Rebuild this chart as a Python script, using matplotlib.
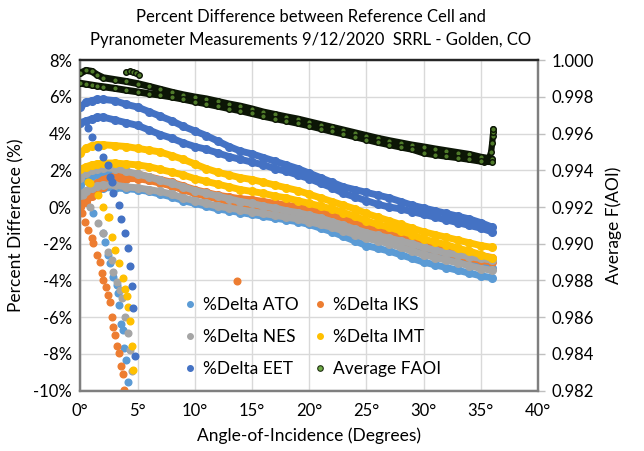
import numpy as np
import matplotlib
matplotlib.use("Agg")
import matplotlib.pyplot as plt
from matplotlib.lines import Line2D
from matplotlib.ticker import FuncFormatter

plt.rcParams['font.family'] = ['Lato', 'DejaVu Sans']

# ---------------- data ----------------
# shared angle-of-incidence grid for the two daily branches (degrees)
aoi = [0, 0.5, 1, 1.5, 2, 3, 4, 5, 6, 7, 8, 9, 10, 11, 12, 13, 14, 15, 16, 17,
       18, 19, 20, 21, 22, 23, 24, 25, 26, 27, 28, 29, 30, 31, 32, 33, 34, 35, 36]

# %Delta ATO
ato_a = [1.2, 1.5, 1.7, 1.8, 1.85, 1.85, 1.75, 1.65, 1.5, 1.35, 1.15, 0.95, 0.75, 0.6,
         0.45, 0.3, 0.15, 0.05, -0.1, -0.2, -0.35, -0.45, -0.6, -0.8, -1.0, -1.2, -1.4,
         -1.6, -1.75, -1.9, -2.1, -2.25, -2.45, -2.6, -2.75, -2.9, -3.0, -3.15, -3.3]
ato_b = [0.5, 0.75, 0.9, 1.0, 1.05, 1.05, 1.0, 0.95, 0.85, 0.7, 0.55, 0.35, 0.2, 0.05,
         -0.1, -0.2, -0.3, -0.4, -0.5, -0.6, -0.7, -0.8, -0.95, -1.15, -1.35, -1.6, -1.85,
         -2.1, -2.25, -2.4, -2.6, -2.8, -3.0, -3.15, -3.3, -3.45, -3.6, -3.75, -3.85]
ato_tail_x = [0.3, 1.14, 1.57, 2.0, 2.16, 2.45, 2.6, 2.88, 3.18, 3.32, 3.41, 3.53, 3.7,
              3.82, 4.0, 4.2]
ato_tail_y = [0.6, -0.34, 1.38, -1.43, -1.89, -2.62, -3.07, -3.8, -4.25, -4.7, -5.34,
              -6.38, -6.7, -7.7, -8.34, -9.52]

# %Delta IKS
iks_a = [0.5, 0.8, 1.05, 1.3, 1.5, 1.7, 1.85, 1.8, 1.65, 1.5, 1.35, 1.15, 0.95, 0.8,
         0.65, 0.55, 0.45, 0.4, 0.3, 0.2, 0.1, 0.0, -0.1, -0.25, -0.45, -0.6, -0.8,
         -1.0, -1.2, -1.35, -1.55, -1.7, -1.9, -2.05, -2.2, -2.35, -2.5, -2.65, -2.75]
iks_b = [0.0, 0.3, 0.6, 0.85, 1.1, 1.4, 1.55, 1.55, 1.45, 1.3, 1.15, 0.95, 0.75, 0.6,
         0.45, 0.3, 0.2, 0.1, 0.0, -0.1, -0.2, -0.3, -0.45, -0.6, -0.8, -1.0, -1.15,
         -1.35, -1.5, -1.65, -1.85, -2.0, -2.2, -2.35, -2.5, -2.65, -2.8, -2.9, -3.0]
iks_tail_x = [0.0, 0.12, 0.41, 0.7, 1.0, 1.14, 1.43, 1.72, 1.87, 2.0, 2.25, 2.45, 2.6,
              2.74, 2.88, 3.03, 3.23, 3.41, 3.53, 3.7, 3.85, 13.7]
iks_tail_y = [0.02, -0.34, -0.8, -1.25, -1.7, -1.98, -2.62, -2.98, -3.61, -3.98, -4.34,
              -4.8, -5.16, -5.98, -6.53, -6.98, -7.56, -7.98, -8.67, -9.1, -10.0, -4.03]

# %Delta NES
nes_a = [1.6, 1.85, 2.0, 2.1, 2.15, 2.1, 1.95, 1.8, 1.65, 1.45, 1.3, 1.1, 0.9, 0.75,
         0.6, 0.45, 0.3, 0.2, 0.05, -0.05, -0.2, -0.3, -0.45, -0.6, -0.8, -1.0, -1.2,
         -1.4, -1.55, -1.7, -1.85, -2.0, -2.2, -2.35, -2.5, -2.6, -2.7, -2.8, -2.9]
nes_b = [0.65, 0.9, 1.05, 1.15, 1.2, 1.2, 1.1, 1.05, 0.95, 0.85, 0.7, 0.5, 0.35, 0.2,
         0.05, -0.05, -0.15, -0.25, -0.35, -0.45, -0.55, -0.65, -0.8, -0.95, -1.1, -1.3,
         -1.5, -1.7, -1.85, -2.0, -2.2, -2.4, -2.6, -2.75, -2.9, -3.05, -3.2, -3.35, -3.45]
nes_tail_x = [0.26, 0.85, 1.57, 2.0, 2.45, 2.74, 2.88, 3.23, 3.47, 3.62, 3.9, 4.2, 4.34,
              4.5]
nes_tail_y = [0.66, 0.02, -0.89, -1.43, -2.44, -2.89, -3.53, -4.07, -4.52, -4.98, -5.98,
              -6.89, -7.8, -8.94]

# %Delta IMT
imt_a = [2.95, 3.2, 3.35, 3.4, 3.4, 3.35, 3.3, 3.2, 3.1, 3.0, 2.8, 2.6, 2.35, 2.1,
         1.9, 1.75, 1.6, 1.5, 1.35, 1.2, 1.05, 0.9, 0.7, 0.5, 0.3, 0.1, -0.1,
         -0.35, -0.55, -0.75, -0.95, -1.15, -1.35, -1.5, -1.65, -1.8, -1.95, -2.1, -2.2]
imt_b = [2.05, 2.2, 2.3, 2.35, 2.4, 2.4, 2.35, 2.3, 2.2, 2.05, 1.9, 1.75, 1.55, 1.4,
         1.25, 1.1, 0.95, 0.85, 0.75, 0.6, 0.5, 0.35, 0.2, 0.05, -0.1, -0.3, -0.5,
         -0.75, -0.95, -1.1, -1.3, -1.5, -1.75, -1.9, -2.05, -2.25, -2.4, -2.6, -2.8]
imt_tail_x = [0.67, 0.85, 1.57, 2.0, 2.4, 2.53, 2.74, 3.03, 3.4, 3.7, 3.9, 4.06, 4.2,
              4.34, 4.5, 4.63]
imt_tail_y = [1.38, 1.29, 0.66, 0.02, -0.53, -0.56, -1.65, -2.34, -3.04, -3.89, -4.49,
              -4.85, -5.44, -6.2, -7.6, -8.9]

# %Delta EET
eet_a = [5.45, 5.7, 5.8, 5.87, 5.87, 5.8, 5.6, 5.45, 5.2, 4.95, 4.7, 4.4, 4.15, 3.9,
         3.6, 3.3, 3.05, 2.9, 2.7, 2.5, 2.3, 2.1, 1.85, 1.6, 1.35, 1.1, 0.95,
         0.8, 0.65, 0.5, 0.3, 0.1, -0.05, -0.2, -0.35, -0.5, -0.65, -0.85, -1.1]
eet_b = [4.6, 4.7, 4.8, 4.9, 4.9, 4.75, 4.6, 4.45, 4.2, 3.95, 3.75, 3.5, 3.3, 3.15,
         2.95, 2.75, 2.6, 2.45, 2.3, 2.1, 1.95, 1.75, 1.55, 1.3, 1.05, 0.75, 0.55,
         0.35, 0.15, 0.0, -0.1, -0.25, -0.4, -0.55, -0.7, -0.85, -1.0, -1.15, -1.35]
eet_tail_x = [0.7, 1.0, 1.57, 2.0, 2.45, 2.6, 2.74, 2.88, 3.4, 3.53, 3.9, 4.2, 4.34,
              4.5, 4.63, 4.8]
eet_tail_y = [4.29, 3.83, 3.29, 2.74, 2.29, 1.65, 1.38, 0.75, 0.11, -0.67, -1.43, -2.25,
              -3.22, -4.31, -5.52, -8.1]

# Average FAOI (right axis)
faoi_a = [0.99930, 0.99945, 0.99940, 0.99920, 0.99905, 0.99895, 0.99885, 0.99873,
          0.99858, 0.99842, 0.99826, 0.99812, 0.99800, 0.99790, 0.99776, 0.99762,
          0.99750, 0.99735, 0.99718, 0.99705, 0.99692, 0.99680, 0.99665, 0.99650,
          0.99635, 0.99620, 0.99605, 0.99590, 0.99575, 0.99562, 0.99550, 0.99538,
          0.99528, 0.99517, 0.99507, 0.99497, 0.99487, 0.99472, 0.99462]
faoi_b = [0.99875, 0.99870, 0.99865, 0.99860, 0.99856, 0.99847, 0.99837, 0.99828,
          0.99818, 0.99810, 0.99800, 0.99788, 0.99775, 0.99763, 0.99750, 0.99737,
          0.99725, 0.99710, 0.99695, 0.99682, 0.99670, 0.99657, 0.99643, 0.99628,
          0.99612, 0.99598, 0.99583, 0.99568, 0.99553, 0.99540, 0.99527, 0.99515,
          0.99495, 0.99485, 0.99477, 0.99469, 0.99460, 0.99450, 0.99447]
faoi_hook_x = [35.3, 35.7, 35.9, 36.0, 36.05, 36.1, 36.1]
faoi_hook_y = [0.99447, 0.99460, 0.99500, 0.99550, 0.99590, 0.99610, 0.99625]
faoi_blob_x = [4.0, 4.3, 4.6, 4.9, 5.1]
faoi_blob_y = [0.99935, 0.99940, 0.99938, 0.99930, 0.99918]

labels = ['%Delta ATO', '%Delta IKS', '%Delta NES', '%Delta IMT', '%Delta EET',
          'Average FAOI']
xticks = [0, 5, 10, 15, 20, 25, 30, 35, 40]
yticks_left = [-10, -8, -6, -4, -2, 0, 2, 4, 6, 8]
yticks_right = [0.982, 0.984, 0.986, 0.988, 0.990, 0.992, 0.994, 0.996, 0.998, 1.000]

# ---------------- figure ----------------
W, H = 644, 451
fig = plt.figure(figsize=(W / 100, H / 100), dpi=100)
L, R, T, B = 80.3, 538.0, 60.3, 390.5
ax = fig.add_axes([L / W, 1 - B / H, (R - L) / W, (B - T) / H])
ax2 = ax.twinx()

colors = {'ATO': '#5B9BD5', 'IKS': '#ED7D31', 'NES': '#A5A5A5',
          'IMT': '#FFC000', 'EET': '#4472C4'}
series = [('ATO', ato_a, ato_b, ato_tail_x, ato_tail_y),
          ('IKS', iks_a, iks_b, iks_tail_x, iks_tail_y),
          ('NES', nes_a, nes_b, nes_tail_x, nes_tail_y),
          ('IMT', imt_a, imt_b, imt_tail_x, imt_tail_y),
          ('EET', eet_a, eet_b, eet_tail_x, eet_tail_y)]
z = 3
for name, ya, yb, tx, ty in series:
    c = colors[name]
    for yy in (ya, yb):
        ax.plot(aoi, yy, color=c, lw=5.0, marker='o', ms=5.5, mec=c,
                solid_capstyle='round', solid_joinstyle='round', zorder=z)
    ax.plot(tx, ty, ls='none', marker='o', ms=4.8, color=c, mec=c, zorder=z)
    z += 1

faoi_kw = dict(ls='none', marker='o', ms=4.0, mfc='#4F7A2A', mec='#0B1405', mew=1.0)
for yy in (faoi_a, faoi_b):
    ax2.plot(aoi, yy, color='#0C1606', lw=5.0, solid_capstyle='round', zorder=3)
    ax2.plot(aoi, yy, **faoi_kw, zorder=4)
ax2.plot(faoi_hook_x, faoi_hook_y, color='#0C1606', lw=4.5, solid_capstyle='round')
ax2.plot(faoi_hook_x, faoi_hook_y, **faoi_kw)
ax2.plot(faoi_blob_x, faoi_blob_y, color='#0C1606', lw=3.5, solid_capstyle='round')
ax2.plot(faoi_blob_x, faoi_blob_y, **faoi_kw)

# axes setup
ax.set_xlim(0, 40)
ax.set_ylim(-10, 8)
ax2.set_ylim(0.982, 1.000)
ax.set_xticks(xticks)
ax.set_xticklabels([f'{v}\u00b0' for v in xticks])
ax.set_yticks(yticks_left)
ax.set_yticklabels([f'{v}%' for v in yticks_left])
ax2.set_yticks(yticks_right)
ax2.yaxis.set_major_formatter(FuncFormatter(lambda v, p: f'{v:.3f}'))

ax.grid(True, color='#D9D9D9', lw=1.0)
ax.set_axisbelow(True)
ax.tick_params(axis='both', length=0, labelsize=12, colors='#000000', pad=6)
ax.tick_params(axis='x', pad=9)
ax2.tick_params(axis='y', length=5, width=1, color='#BFBFBF', labelsize=12, pad=5)

for a in (ax, ax2):
    for s in ('left', 'bottom', 'right'):
        a.spines[s].set_color('#7F7F7F')
        a.spines[s].set_linewidth(1.6)
    a.spines['top'].set_color('#262626')
    a.spines['top'].set_linewidth(1.6)

ax.set_xlabel('Angle-of-Incidence (Degrees)', fontsize=12.5, labelpad=6)
ax.set_ylabel('Percent Difference (%)', fontsize=12.5, labelpad=6)
ax2.set_ylabel('Average F(AOI)', fontsize=12.5, labelpad=8)

fig.text(311 / W, 1 - 17 / H, 'Percent Difference between Reference Cell and',
         ha='center', va='center', fontsize=12)
fig.text(311 / W, 1 - 40 / H, 'Pyranometer Measurements 9/12/2020  SRRL - Golden, CO',
         ha='center', va='center', fontsize=12)

handles = []
for name in ['ATO', 'NES', 'EET', 'IKS', 'IMT']:
    handles.append(Line2D([], [], ls='none', marker='o', ms=4, color=colors[name]))
handles.append(Line2D([], [], ls='none', marker='o', ms=4, mfc='#70AD47', mec='#1E2E10',
                      mew=0.8))
leg_labels = [labels[0], labels[2], labels[4], labels[1], labels[3], labels[5]]
leg = ax2.legend(handles, leg_labels, ncol=2, frameon=False, fontsize=12.5,
                 loc='upper left', bbox_to_anchor=((185 - L) / (R - L), (B - 297) / (B - T)),
                 handlelength=0.6, handletextpad=0.45, columnspacing=0.9,
                 labelspacing=0.92, borderaxespad=0, borderpad=0)

fig.savefig('out.png', dpi=100)
